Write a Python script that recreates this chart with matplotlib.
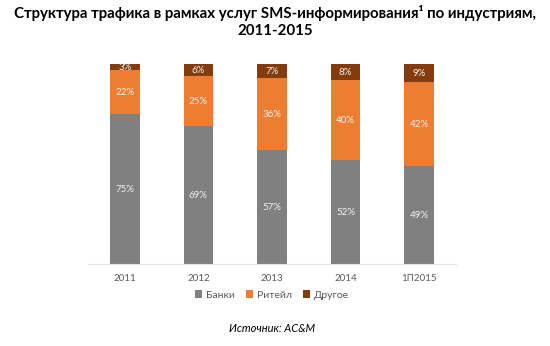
import matplotlib.pyplot as plt
import numpy as np

plt.rcParams['font.family'] = ['Lato', 'DejaVu Sans']

years = ["2011", "2012", "2013", "2014", "1П2015"]
banks = [75, 69, 57, 52, 49]
retail = [22, 25, 36, 40, 42]
other = [3, 6, 7, 8, 9]

series = [("Банки", banks, "#808080"),
          ("Ритейл", retail, "#ED7D31"),
          ("Другое", other, "#843C0C")]

fig = plt.figure(figsize=(5.5, 3.46), dpi=100)
ax = fig.add_axes([0.16, 0.237, 0.669, 0.578])

x = np.arange(len(years))
bottom = np.zeros(len(years))
for name, vals, color in series:
    vals = np.array(vals)
    ax.bar(x, vals, 0.4, bottom=bottom, color=color, label=name)
    for xi, b, v in zip(x, bottom, vals):
        ax.text(xi, b + v / 2, f"{v}%", ha="center", va="center",
                color="#F2F2F2", fontsize=7)
    bottom += vals

ax.set_xlim(-0.5, len(years) - 0.5)
ax.set_ylim(0, 100)
ax.set_xticks(x)
ax.set_xticklabels(years, fontsize=7, color="#595959")
ax.tick_params(axis="x", length=0, pad=7)
ax.set_yticks([])
for s in ["top", "right", "left"]:
    ax.spines[s].set_visible(False)
ax.spines["bottom"].set_color("#E6E6E6")
ax.spines["bottom"].set_linewidth(0.8)

ax.legend(loc="center", bbox_to_anchor=(0.5, -0.155), ncol=3, frameon=False,
          fontsize=7.5, handlelength=0.7, handleheight=0.7, handletextpad=0.4,
          columnspacing=1.0, labelcolor="#595959")

fig.text(0.5, 0.985, "Структура трафика в рамках услуг SMS-информирования¹ по индустриям,\n2011-2015",
         ha="center", va="top", fontsize=10.8, fontweight="bold", linespacing=1.25)
fig.text(0.495, 0.052, "Источник: AC&M", ha="center", va="center",
         fontsize=8, style="italic")

fig.savefig("out.png", dpi=100)
